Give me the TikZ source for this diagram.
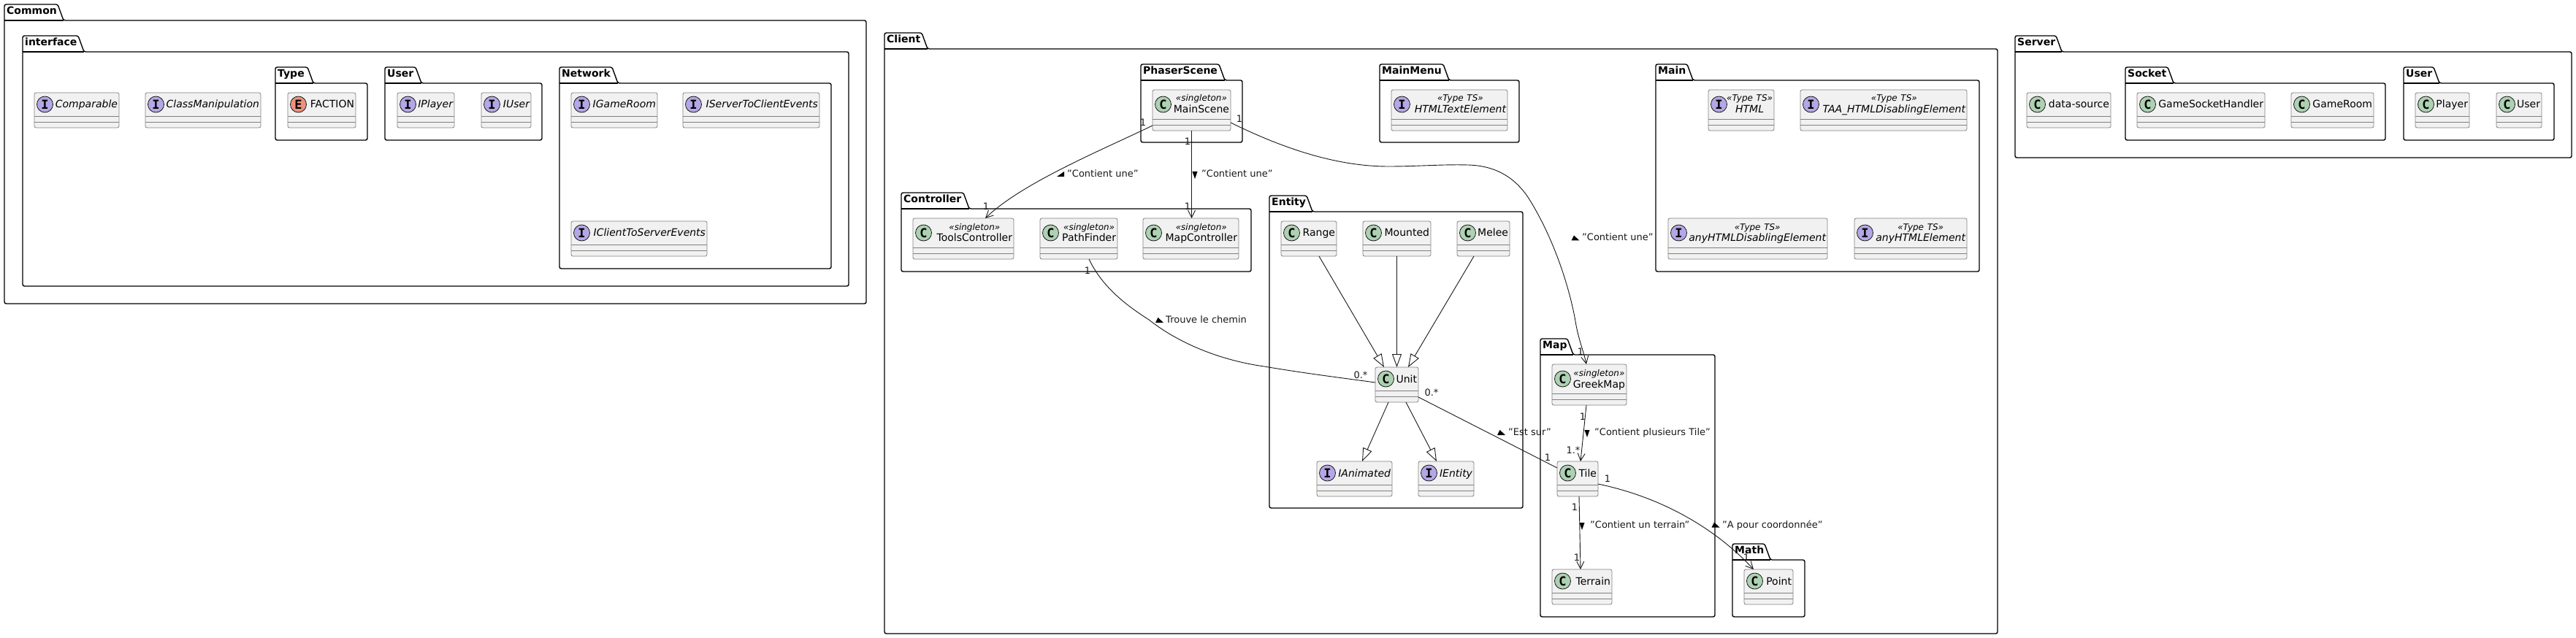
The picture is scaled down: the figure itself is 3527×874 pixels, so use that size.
\documentclass[tikz,border=0pt]{standalone}
\usepackage{fontspec}
\setmainfont{DejaVu Sans}
\setmonofont{DejaVu Sans Mono}
\usepackage{tikz}
\usetikzlibrary{arrows.meta,positioning}

\definecolor{boxfill}{HTML}{F1F1F1}
\definecolor{boxline}{HTML}{808080}
\definecolor{edgeline}{HTML}{181818}
\definecolor{iconclass}{HTML}{ADD1B2}
\definecolor{iconiface}{HTML}{B4A7E5}
\definecolor{iconenum}{HTML}{EB937F}

\newcommand{\namefont}{\fontsize{14}{16}\selectfont}
\newcommand{\edgefont}{\fontsize{13}{15}\selectfont}
% stereotype line centred over the class name
\newcommand{\stereo}[2]{\vbox{\baselineskip=16pt\lineskiplimit=-20pt\halign{\hfil##\hfil\cr{\fontsize{12}{14}\selectfont\itshape #1}\cr #2\cr}}}
% folder shape: name, left, tab top, tab right, right, bottom, text
\newcommand{\pkg}[7]{
  \draw[pkgline,rounded corners=2.5pt] (#2,#3+22) |- (#4,#3) -- (#4+8,#3+22) -- (#5,#3+22) |- (#2,#6) -- cycle;
  \draw[pkgline] (#2,#3+22) -- (#4+8,#3+22);
  \node[pkglabel] (#1) at (#2+3,#3+11) {#7};
}

\tikzset{
  pkgline/.style={draw=black,line width=1.4pt},
  pkglabel/.style={anchor=mid west,inner sep=0pt,font=\namefont\bfseries},
  umlbox/.style n args={3}{draw=boxline,fill=boxfill,line width=0.8pt,rounded corners=2.5pt,
    inner xsep=2pt,inner ysep=0pt,outer sep=0pt,text width=#1pt-4pt,align=right,font=\namefont,
    path picture={
      \draw[boxline,line width=0.8pt] ([yshift=16pt]path picture bounding box.south west) -- ([yshift=16pt]path picture bounding box.south east);
      \draw[boxline,line width=0.8pt] ([yshift=8pt]path picture bounding box.south west) -- ([yshift=8pt]path picture bounding box.south east);
      \node[circle,draw=edgeline,fill=#2,line width=0.8pt,minimum size=22pt,inner sep=0pt,anchor=center,text width={},text height={},text depth={},align=center,
        font=\fontsize{17}{17}\selectfont\ttfamily\bfseries] (class icon) at ([xshift=14.5pt,yshift=8pt]path picture bounding box.west) {#3};
    }},
  plainrow/.style={text height=21pt,text depth=27pt},
  stereorow/.style={text height=32pt,text depth=24pt},
  cls/.style={umlbox={#1}{iconclass}{C},plainrow},
  ifc/.style={umlbox={#1}{iconiface}{I},plainrow},
  enm/.style={umlbox={#1}{iconenum}{E},plainrow},
  scls/.style={umlbox={#1}{iconclass}{C},stereorow},
  sifc/.style={umlbox={#1}{iconiface}{I},stereorow},
  assoc/.style={edgeline,line width=0.9pt},
  post/.style={assoc,-{Straight Barb[length=10pt,width=10pt]}},
  inherit/.style={assoc,-{Triangle[open,length=18pt,width=13pt]}},
  mult/.style={inner sep=0pt,font=\edgefont,text=edgeline},
  relname/.style={anchor=mid west,inner sep=0pt,font=\edgefont,text=edgeline},
  dirdown/.pic={\fill[black] (-3.5,-5) -- (3.5,-5) -- (0,5) -- cycle;},
  dirup/.pic={\fill[black] (-5.5,3.5) -- (5.5,3.5) -- (-2,-3.5) -- cycle;},
  dirright/.pic={\fill[black] (-5,3.5) -- (5,3.5) -- (5,-3.5) -- cycle;}
}

\begin{document}
\begin{tikzpicture}[x=1pt,y=-1pt]
  \useasboundingbox (0,0) rectangle (3527,874);

  % packages
  \pkg{pkg common}{6}{6}{79}{1186}{416}{Common}
  \pkg{pkg interface}{31}{49}{107}{1162}{392}{interface}
  \pkg{pkg type}{377}{92}{421}{503}{192}{Type}
  \pkg{pkg iuser}{527}{92}{569}{742}{192}{User}
  \pkg{pkg network}{766}{92}{838}{1138}{368}{Network}
  \pkg{pkg client}{1211}{45}{1262}{2735}{868}{Client}
  \pkg{pkg phaser}{1562}{88}{1669}{1701}{195}{PhaserScene}
  \pkg{pkg menu}{1889}{88}{1976}{2080}{195}{MainMenu}
  \pkg{pkg main}{2267}{88}{2310}{2710}{372}{Main}
  \pkg{pkg controller}{1234}{264}{1319}{1713}{372}{Controller}
  \pkg{pkg entity}{1738}{268}{1789}{2085}{696}{Entity}
  \pkg{pkg map}{2109}{464}{2146}{2348}{845}{Map}
  \pkg{pkg math}{2372}{745}{2416}{2471}{845}{Math}
  \pkg{pkg server}{2759}{49}{2815}{3521}{216}{Server}
  \pkg{pkg socket}{2910}{92}{2968}{3266}{192}{Socket}
  \pkg{pkg user}{3291}{92}{3332}{3497}{192}{User}

  % Common
  \node[ifc=116,anchor=north west] (comparable) at (47,127) {\itshape Comparable};
  \node[ifc=158,right=36pt of comparable] (manipulation) {\itshape ClassManipulation};
  \node[enm=93,right=37pt of manipulation] (faction) {FACTION};
  \node[ifc=78,right=57pt of faction] (iplayer) {\itshape IPlayer};
  \node[ifc=68,right=37pt of iplayer] (iuser) {\itshape IUser};
  \node[ifc=118,right=55pt of iuser] (igameroom) {\itshape IGameRoom};
  \node[ifc=187,right=35pt of igameroom] (iservertoclient) {\itshape IServerToClientEvents};
  \node[ifc=186,anchor=north west] (iclienttoserver) at (782,303) {\itshape IClientToServerEvents};

  % Client
  \node[scls=107,anchor=north west] (main scene) at (1578,123) {\stereo{«singleton»}{MainScene}};
  \node[sifc=159,right=220pt of main scene] (textelement) {\stereo{«Type TS»}{\itshape HTMLTextElement}};
  \node[sifc=90,right=275pt of textelement] (html) {\stereo{«Type TS»}{\itshape HTML}};
  \node[sifc=228,right=36pt of html] (taa) {\stereo{«Type TS»}{\itshape TAA\_HTMLDisablingElement}};
  \node[sifc=218,anchor=north west] (anydisabling) at (2284,299) {\stereo{«Type TS»}{\itshape anyHTMLDisablingElement}};
  \node[sifc=154,right=37pt of anydisabling] (anyelement) {\stereo{«Type TS»}{\itshape anyHTMLElement}};

  \node[scls=138,anchor=north west] (tools) at (1250,299) {\stereo{«singleton»}{ToolsController}};
  \node[scls=106,right=36pt of tools] (pathfinder) {\stereo{«singleton»}{PathFinder}};
  \node[scls=131,right=35pt of pathfinder] (map controller) {\stereo{«singleton»}{MapController}};

  \node[cls=76,anchor=north west] (range) at (1754,303) {Range};
  \node[cls=93,right=36pt of range] (mounted) {Mounted};
  \node[cls=72,right=36pt of mounted] (melee) {Melee};
  \node[cls=59,anchor=north west] (unit) at (1883,503) {Unit};
  \node[ifc=103,anchor=north west] (ianimated) at (1803,632) {\itshape IAnimated};
  \node[ifc=76,right=36pt of ianimated] (ientity) {\itshape IEntity};

  \node[scls=102,anchor=north west] (greek map) at (2125,499) {\stereo{«singleton»}{GreekMap}};
  \node[cls=56,anchor=north west] (tile) at (2132,632) {Tile};
  \node[cls=82,anchor=north west] (terrain) at (2125,780) {Terrain};
  \node[cls=67,anchor=north west] (point) at (2388,780) {Point};

  % Server
  \node[cls=115,anchor=north west] (datasource) at (2775,127) {data-source};
  \node[cls=175,right=36pt of datasource] (sockethandler) {GameSocketHandler};
  \node[cls=113,right=36pt of sockethandler] (gameroom) {GameRoom};
  \node[cls=74,right=57pt of gameroom] (player) {Player};
  \node[cls=62,right=37pt of player] (user) {User};

  % inheritance
  \draw[inherit] ([xshift=14pt]range.south) -- ([xshift=-17.5pt]unit.north);
  \draw[inherit] (mounted.south) -- (unit.north);
  \draw[inherit] ([xshift=-13pt]melee.south) -- ([xshift=15.5pt]unit.north);
  \draw[inherit] ([xshift=-11.5pt]unit.south) -- ([xshift=10.5pt]ianimated.north);
  \draw[inherit] ([xshift=12.5pt]unit.south) -- ([xshift=-13pt]ientity.north);

  % associations
  \draw[post] ([yshift=-21pt]main scene.west) .. controls (1510,205) and (1400,250) .. ([xshift=30pt]tools.north);
  \draw[post] (main scene.south) -- ([xshift=1pt]map controller.north);
  \draw[post] ([yshift=-17pt]main scene.east) .. controls (1770,210) and (1840,228) .. (1901,228)
    .. controls (1940,228) and (1975,225) .. (2010,226)
    .. controls (2050,227) and (2075,245) .. (2092,270)
    .. controls (2130,330) and (2150,400) .. (2157,440)
    .. controls (2161,465) and (2168,480) .. ([xshift=-4pt]greek map.north);
  \draw[assoc] ([xshift=14pt]pathfinder.south) .. controls (1510,395) and (1545,420) .. (1573,438)
    .. controls (1620,475) and (1680,495) .. (1731,502)
    .. controls (1790,512) and (1840,518) .. ([yshift=3pt]unit.west);
  \draw[assoc] ([yshift=-17pt]unit.east) -- ([yshift=15pt]tile.west);
  \draw[post] ([xshift=-4pt]greek map.south) -- ([xshift=4pt]tile.north);
  \draw[post] ([xshift=2pt]tile.south) -- ([xshift=-2pt]terrain.north);
  \draw[post] ([yshift=-7pt]tile.east) .. controls (2270,680) and (2345,720) .. ([xshift=-20.5pt]point.north);

  % multiplicities
  \node[mult] (m scene tools) at (1565,168) {1};
  \node[mult] (m tools) at (1350,283) {1};
  \node[mult] (m scene map) at (1626,194) {1};
  \node[mult] (m map ctrl) at (1626,283) {1};
  \node[mult] (m scene greek) at (1697,163) {1};
  \node[mult] (m greek) at (2164,482) {1};
  \node[mult] (m finder) at (1489,371) {1};
  \node[mult] (m unit finder) at (1863,514) {0.*};
  \node[mult] (m unit tile) at (1960,538) {0.*};
  \node[mult] (m tile unit) at (2119,627) {1};
  \node[mult] (m greek tile) at (2167,571) {1};
  \node[mult] (m tile greek) at (2154,617) {1.*};
  \node[mult] (m tile terrain) at (2156,695) {1};
  \node[mult] (m terrain) at (2159,764) {1};
  \node[mult] (m tile point) at (2201,656) {1};
  \node[mult] (m point) at (2391,764) {1};

  % relation names
  \pic (d tools) at (1452,238.5) {dirright};
  \node[relname] (r tools) at (1461,240) {"Contient une"};
  \pic (d map ctrl) at (1636,240) {dirdown};
  \node[relname] (r map ctrl) at (1645,240) {"Contient une"};
  \pic (d greek) at (2157,326) {dirup};
  \node[relname] (r greek) at (2166,327) {"Contient une"};
  \pic (d finder) at (1587.5,438.5) {dirup};
  \node[relname] (r finder) at (1596,440) {Trouve le chemin};
  \pic (d tile unit) at (2055.5,592.5) {dirup};
  \node[relname] (r tile unit) at (2065,594) {"Est sur"};
  \pic (d tiles) at (2173,594) {dirdown};
  \node[relname] (r tiles) at (2183,594) {"Contient plusieurs Tile"};
  \pic (d terrain) at (2166,721) {dirdown};
  \node[relname] (r terrain) at (2177,721) {"Contient un terrain"};
  \pic (d point) at (2349,719) {dirup};
  \node[relname] (r point) at (2358,721) {"A pour coordonnée"};

\end{tikzpicture}
\end{document}
